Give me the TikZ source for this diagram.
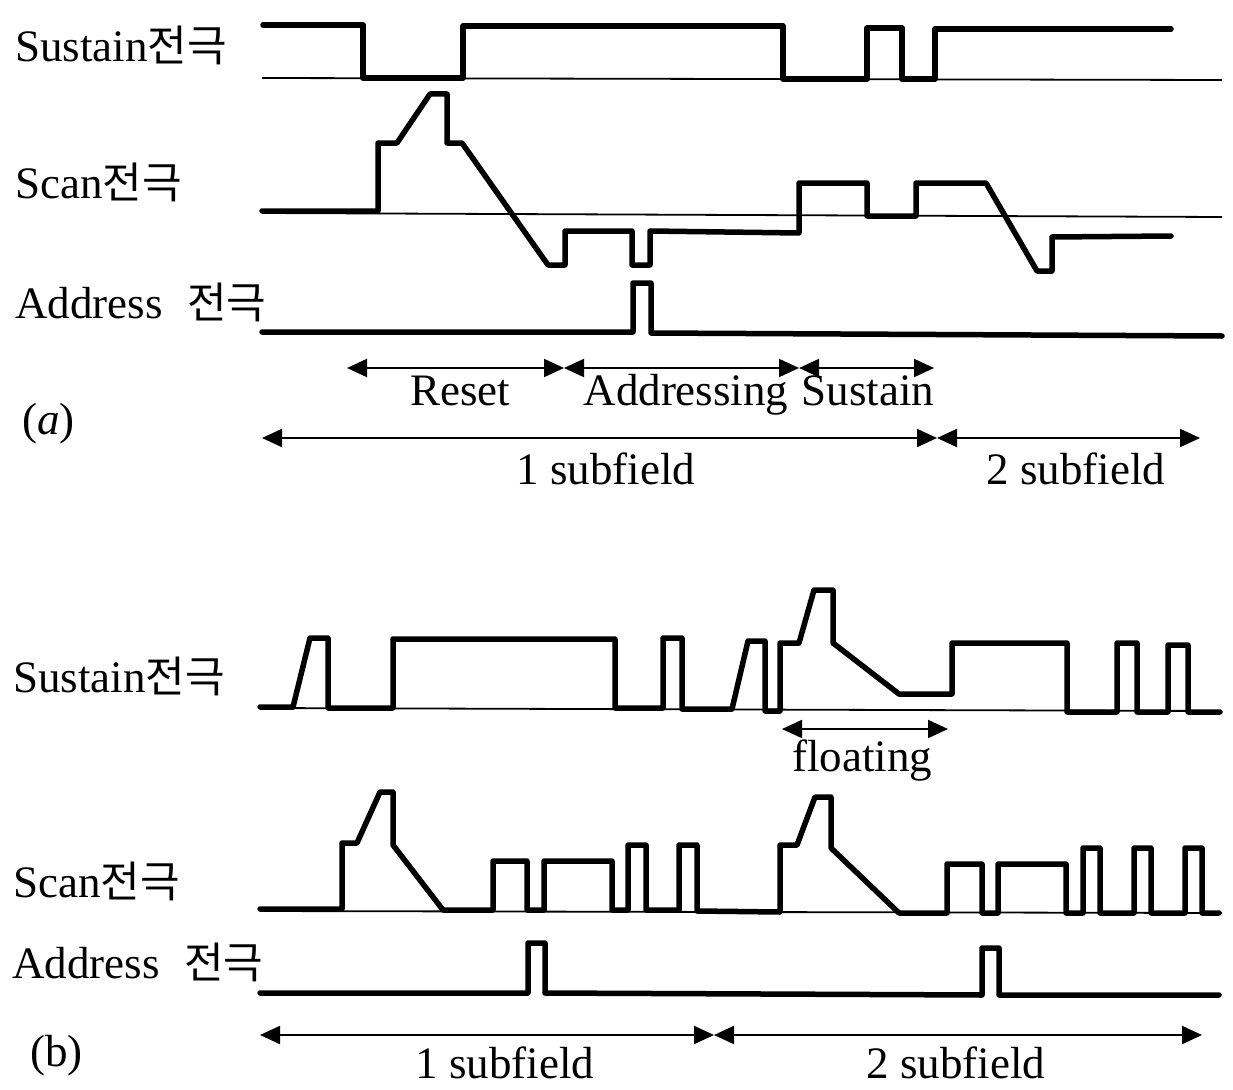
\documentclass[tikz,border=0pt]{standalone}
\usepackage{fontspec}
\setmainfont{Liberation Serif}
\newfontfamily\krfont{Noto Sans CJK KR}
\usetikzlibrary{arrows.meta}
\newcommand\jeongeuk{{\krfont\fontsize{43}{50}\selectfont 전극}}
\begin{document}
\begin{tikzpicture}[x=1pt,y=-1pt,
 wave/.style={line width=5.5pt, line join=round, line cap=round},
 baseln/.style={line width=1.8pt},
 dimline/.style={line width=2pt, {Triangle[length=20pt,width=18pt]}-{Triangle[length=20pt,width=18pt]}},
 lbl/.style={inner sep=0pt, anchor=base west, font=\fontsize{45}{54}\selectfont},
 txt/.style={inner sep=0pt, anchor=base, font=\fontsize{45}{54}\selectfont},
]
\useasboundingbox (0,0) rectangle (1233,1089);

% ---------- (a) labels ----------
\node[lbl] (susA) at (15,62) {Sustain\jeongeuk};
\node[lbl] (scanA) at (15,198) {Scan\jeongeuk};
\node[lbl] (addrA) at (15,318) {Address\hspace{0.55em}\jeongeuk};
\node[lbl] (tagA) at (22,434) {(\textit{a})};

% ---------- (a) waveforms ----------
\draw[baseln] (262,78) -- (1222,80);
\draw[wave] (263,25) -- (363,25) -- (363,78) -- (463,78) -- (463,26) -- (783,26) -- (783,79) -- (867,79) -- (867,28) -- (902,28) -- (902,79) -- (935,79) -- (935,29) -- (1171,29);

\draw[baseln] (262,213) -- (1222,217);
\draw[wave] (262,211) -- (378,211) -- (378,143) -- (397,143) -- (430,94) -- (447,94) -- (447,143) -- (462,143) -- (548,265) -- (565,265) -- (565,231) -- (632,231) -- (632,265) -- (650,265) -- (650,231) -- (799,233) -- (799,183) -- (867,183) -- (867,216) -- (916,216) -- (916,183) -- (986,183) -- (1037,271) -- (1052,271) -- (1052,237) -- (1171,236);

\draw[wave] (262,332) -- (633,332) -- (633,283) -- (651,283) -- (651,333) -- (1222,336);

% ---------- (a) dimension arrows ----------
\coordinate (r0) at (347,368);
\coordinate (r1) at (564,368);
\coordinate (r2) at (799,368);
\coordinate (r3) at (934,368);
\draw[dimline] (r0) -- (r1);
\draw[dimline] (r1) -- (r2);
\draw[dimline] (r2) -- (r3);
\node[txt] (reset) at (460,405) {Reset};
\node[txt] (addressing) at (686,405) {Addressing};
\node[txt] (sustainph) at (868,405) {Sustain};

\coordinate (s0) at (262,438);
\coordinate (s1) at (937,438);
\coordinate (s2) at (1200,438);
\draw[dimline] (s0) -- (s1);
\draw[dimline] (s1) -- (s2);
\node[txt] (sub1A) at (606,484) {1 subfield};
\node[txt] (sub2A) at (1076,484) {2 subfield};

% ---------- (b) labels ----------
\node[lbl] (susB) at (13,692) {Sustain\jeongeuk};
\node[lbl] (scanB) at (13,897) {Scan\jeongeuk};
\node[lbl] (addrB) at (12,978) {Address\hspace{0.55em}\jeongeuk};
\node[lbl] (tagB) at (30,1066) {(b)};

% ---------- (b) waveforms ----------
\draw[baseln] (260,708) -- (1220,711);
\draw[wave] (260,707) -- (293,707) -- (310,638) -- (328,638) -- (328,708) -- (393,708) -- (393,639) -- (615,639) -- (615,708) -- (663,708) -- (663,638) -- (682,638) -- (682,709) -- (732,709) -- (748,641) -- (765,641) -- (765,711) -- (780,711) -- (780,643) -- (799,643) -- (814,590) -- (833,590) -- (833,643) -- (899,694) -- (952,694) -- (952,643) -- (1067,643) -- (1067,712) -- (1117,712) -- (1117,643) -- (1137,643) -- (1137,712) -- (1168,712) -- (1168,645) -- (1188,645) -- (1188,712) -- (1220,712);

\coordinate (f0) at (782,729);
\coordinate (f1) at (948,729);
\draw[dimline] (f0) -- (f1);
\node[txt] (floating) at (862,771) {floating};

\draw[baseln] (260,911) -- (1222,913);
\draw[wave] (260,909) -- (342,909) -- (342,843) -- (357,843) -- (380,792) -- (393,792) -- (393,845) -- (443,910) -- (493,910) -- (493,861) -- (527,861) -- (527,910) -- (544,910) -- (544,861) -- (612,861) -- (612,910) -- (628,910) -- (628,845) -- (646,845) -- (646,910) -- (679,910) -- (679,845) -- (697,845) -- (697,911) -- (780,912) -- (780,845) -- (797,845) -- (815,797) -- (831,797) -- (831,848) -- (899,913) -- (947,913) -- (947,864) -- (982,864) -- (982,913) -- (998,913) -- (998,864) -- (1066,864) -- (1066,913) -- (1083,913) -- (1083,848) -- (1100,848) -- (1100,913) -- (1134,913) -- (1134,848) -- (1151,848) -- (1151,913) -- (1185,913) -- (1185,848) -- (1202,848) -- (1202,913) -- (1219,913);

\draw[wave] (260,993) -- (528,993) -- (528,943) -- (545,943) -- (545,993) -- (982,995) -- (982,948) -- (999,948) -- (999,995) -- (1219,995);

% ---------- (b) dimension arrows ----------
\coordinate (b0) at (260,1035);
\coordinate (b1) at (714,1035);
\coordinate (b2) at (1202,1035);
\draw[dimline] (b0) -- (b1);
\draw[dimline] (b1) -- (b2);
\node[txt] (sub1B) at (505,1078) {1 subfield};
\node[txt] (sub2B) at (956,1078) {2 subfield};
\end{tikzpicture}
\end{document}
